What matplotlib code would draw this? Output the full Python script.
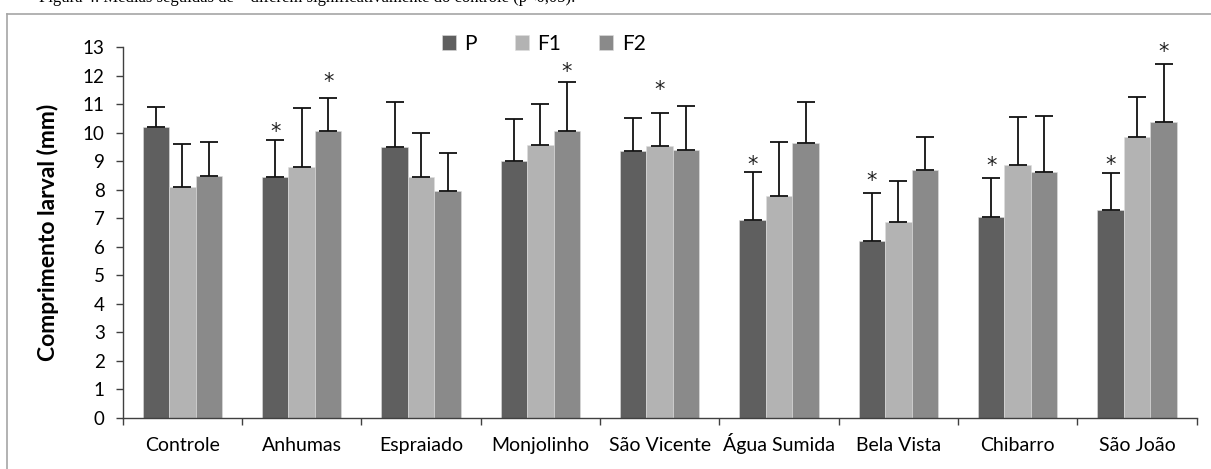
import numpy as np
import matplotlib
matplotlib.use("Agg")
import matplotlib.pyplot as plt
from matplotlib.lines import Line2D

# comprimento larval medio (mm) e desvio padrao por local e geracao
locais = ["Controle", "Anhumas", "Espraiado", "Monjolinho", "São Vicente",
          "Água Sumida", "Bela Vista", "Chibarro", "São João"]
geracoes = ["P", "F1", "F2"]

media_P = [10.21, 8.44, 9.51, 9.01, 9.35, 6.93, 6.21, 7.06, 7.28]
media_F1 = [8.10, 8.79, 8.45, 9.57, 9.53, 7.77, 6.88, 8.87, 9.84]
media_F2 = [8.48, 10.07, 7.96, 10.06, 9.39, 9.64, 8.68, 8.62, 10.37]

dp_P = [0.69, 1.31, 1.58, 1.47, 1.16, 1.70, 1.68, 1.36, 1.32]
dp_F1 = [1.52, 2.07, 1.55, 1.43, 1.15, 1.90, 1.43, 1.70, 1.43]
dp_F2 = [1.21, 1.14, 1.33, 1.71, 1.55, 1.45, 1.17, 1.97, 2.06]

# asteriscos: (local, geracao, altura do asterisco)
asteriscos = [(1, 0, 10.04), (1, 2, 11.79), (3, 2, 12.14), (4, 1, 11.50),
              (5, 0, 8.87), (6, 0, 8.31), (7, 0, 8.85), (8, 0, 8.87),
              (8, 2, 12.85)]

cores = ["#5f5f5f", "#b3b3b3", "#8a8a8a"]

plt.rcParams['font.family'] = ['Lato', 'DejaVu Sans']

W, H = 1211, 469
fig = plt.figure(figsize=(W / 100, H / 100), dpi=100)

# legenda da figura, cortada no topo
fig.text(575 / W, 1 - 1.5 / H,
         "Figura 4. Médias seguidas de * diferem significativamente do controle (p<0,05).",
         ha="right", va="baseline", fontsize=12, family="Liberation Serif",
         color="black")

# moldura da area do grafico
fig.add_artist(Line2D([7 / W, 7 / W], [-0.1, 1 - 14.5 / H], transform=fig.transFigure,
                      color="#a6a6a6", lw=1.2))
fig.add_artist(Line2D([7 / W, 1.1], [1 - 14.5 / H, 1 - 14.5 / H], transform=fig.transFigure,
                      color="#a6a6a6", lw=1.2))

x0, x1 = 122.7, 1196.7
y0, y1 = 417.7, 47.3
ax = fig.add_axes([x0 / W, (H - y0) / H, (x1 - x0) / W, (y0 - y1) / H])

n = len(locais)
x = np.arange(n)
larg = 2 / 9.0
medias = [media_P, media_F1, media_F2]
dps = [dp_P, dp_F1, dp_F2]

for i in range(3):
    pos = x + (i - 1) * larg
    ax.bar(pos, medias[i], width=larg, color=cores[i], edgecolor="#dedede",
           linewidth=0.4, label=geracoes[i], zorder=2)
    ax.errorbar(pos, medias[i], yerr=[np.zeros(n), dps[i]], fmt="none",
                ecolor="#111111", elinewidth=1.3, capsize=6.5, capthick=1.3,
                zorder=3)

for loc, g, yy in asteriscos:
    ax.text(x[loc] + (g - 1) * larg, yy, "*", ha="center", va="center",
            fontsize=15, family="DejaVu Sans", color="#222222")

ax.set_xlim(-0.5, n - 0.5)
ax.set_ylim(0, 13)
ax.set_yticks(range(0, 14))
ax.set_xticks(np.arange(-0.5, n, 1.0))
ax.set_xticklabels([])
ax.set_xticks(x, minor=True)
ax.set_xticklabels(locais, minor=True)
ax.tick_params(axis="x", which="minor", length=0, pad=24, labelsize=14)
for lbl in ax.get_xticklabels(minor=True):
    lbl.set_verticalalignment("baseline")
ax.tick_params(axis="x", which="major", length=5, width=1, color="#404040")
ax.tick_params(axis="y", length=5, width=1, color="#404040", labelsize=13.5, pad=8)

for s in ["top", "right"]:
    ax.spines[s].set_visible(False)
for s in ["left", "bottom"]:
    ax.spines[s].set_color("#404040")
    ax.spines[s].set_linewidth(1)

ax.set_ylabel("Comprimento larval (mm)", fontsize=16.5, fontweight="bold",
              va="center")
ax.yaxis.set_label_coords((48 - x0) / (x1 - x0), 0.5)

ax.legend(loc="center", bbox_to_anchor=(0.392, 1.009), ncol=3, frameon=False,
          fontsize=15, handlelength=0.7, handleheight=0.7, handletextpad=0.4,
          columnspacing=1.8, borderpad=0.2)

fig.savefig("out.png", dpi=100)
